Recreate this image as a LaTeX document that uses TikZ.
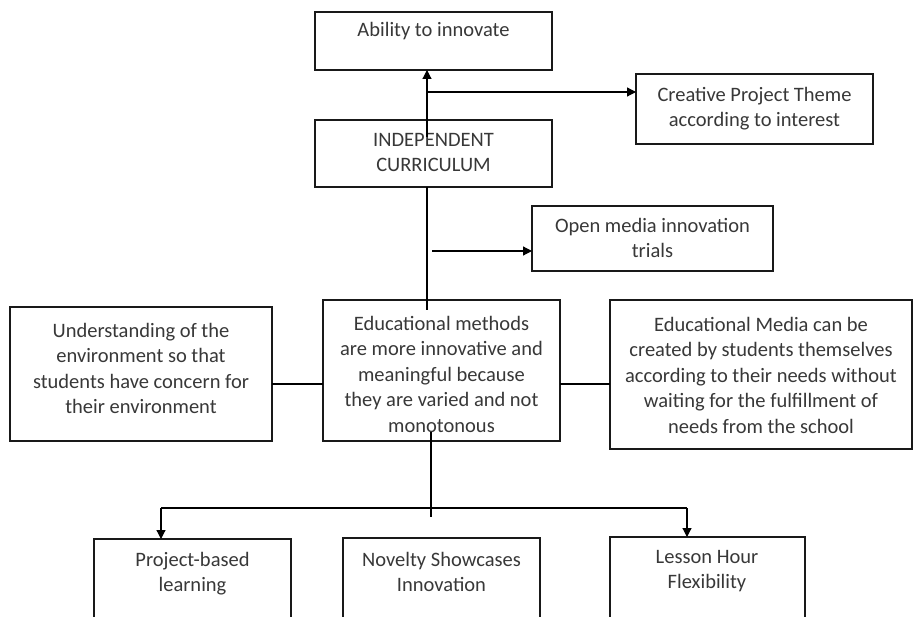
\documentclass[tikz,border=0pt]{standalone}
\usepackage{fontspec}
\setmainfont{Carlito}
\usetikzlibrary{arrows.meta,calc}
% fixed-height strut so every label's first baseline sits a known distance below its top
\newcommand{\boxstrut}{\rule{0pt}{16pt}}
\begin{document}
\begin{tikzpicture}[x=1pt,y=-1pt,
  boxnode/.style={draw=black!90,line width=1.2pt,rectangle,inner sep=0pt,outer sep=0pt,anchor=north west},
  txt/.style={inner sep=0pt,anchor=north,align=center,text=black!78,font=\fontsize{20.5}{25.5}\selectfont},
  link/.style={draw=black,line width=1.2pt},
  arr/.style={link,-{Triangle[length=9pt,width=9pt]}}]
\useasboundingbox (0,0) rectangle (915,617);
\clip (0,0) rectangle (915,617);
\fill[white] (0,0) rectangle (915,617);

% boxes
\node[boxnode,minimum width=237pt,minimum height=58pt] (ability) at (315,12) {};
\node[boxnode,minimum width=237pt,minimum height=67pt] (indep) at (315,120) {};
\node[boxnode,minimum width=237pt,minimum height=70pt] (creative) at (636,74) {};
\node[boxnode,minimum width=241pt,minimum height=65pt] (openm) at (532,206) {};
\node[boxnode,minimum width=262pt,minimum height=134pt] (leftb) at (10,307) {};
\node[boxnode,minimum width=237pt,minimum height=141pt] (center) at (323,300) {};
\node[boxnode,minimum width=302pt,minimum height=149pt] (rightb) at (610,300) {};
\node[boxnode,minimum width=197pt,minimum height=110pt] (project) at (94,539) {};
\node[boxnode,minimum width=197pt,minimum height=110pt] (novelty) at (343,538) {};
\node[boxnode,minimum width=195pt,minimum height=110pt] (lesson) at (610,537) {};

% labels
\node[txt] (tAbility) at (433.5,20) {\boxstrut Ability to innovate};
\node[txt] (tIndep) at (433.5,130) {\boxstrut INDEPENDENT\\CURRICULUM};
\node[txt] (tCreative) at (754.5,85) {\boxstrut Creative Project Theme\\according to interest};
\node[txt] (tOpen) at (652.5,216) {\boxstrut Open media innovation\\trials};
\node[txt] (tLeft) at (141,321) {\boxstrut Understanding of the\\environment so that\\students have concern for\\their environment};
\node[txt] (tCenter) at (441.5,314) {\boxstrut Educational methods\\are more innovative and\\meaningful because\\they are varied and not\\monotonous};
\node[txt] (tRight) at (761,315) {\boxstrut Educational Media can be\\created by students themselves\\according to their needs without\\waiting for the fulfillment of\\needs from the school};
\node[txt] (tProject) at (192.5,550) {\boxstrut Project-based\\learning};
\node[txt] (tNovelty) at (441.5,550) {\boxstrut Novelty Showcases\\Innovation};
\node[txt] (tLesson) at (707,547) {\boxstrut Lesson Hour\\Flexibility};

% connector points
\coordinate (jA) at (427,137);
\coordinate (jB) at (427,92);
\coordinate (jC) at (427,310);
\coordinate (jD) at (432,251);
\coordinate (jE) at (0,384);
\coordinate (jF) at (431,432);
\coordinate (jG) at (431,517);
\coordinate (hL) at (161,508);
\coordinate (hR) at (687,508);

% upper trunk and its branches
\draw[arr] (jA) -- (jA |- ability.south);
\draw[arr] (jB) -- (jB -| creative.west);
\draw[link] (indep.south -| jC) -- (jC);
\draw[arr] (jD) -- (jD -| openm.west);

% side links
\draw[link] (leftb.east |- jE) -- (center.west |- jE);
\draw[link] (center.east |- jE) -- (rightb.west |- jE);

% lower trunk and its branches
\draw[link] (jF) -- (jG);
\draw[link] (hL) -- (hR);
\draw[arr] (hL) -- (hL |- project.north);
\draw[arr] (hR) -- (hR |- lesson.north);
\end{tikzpicture}
\end{document}
